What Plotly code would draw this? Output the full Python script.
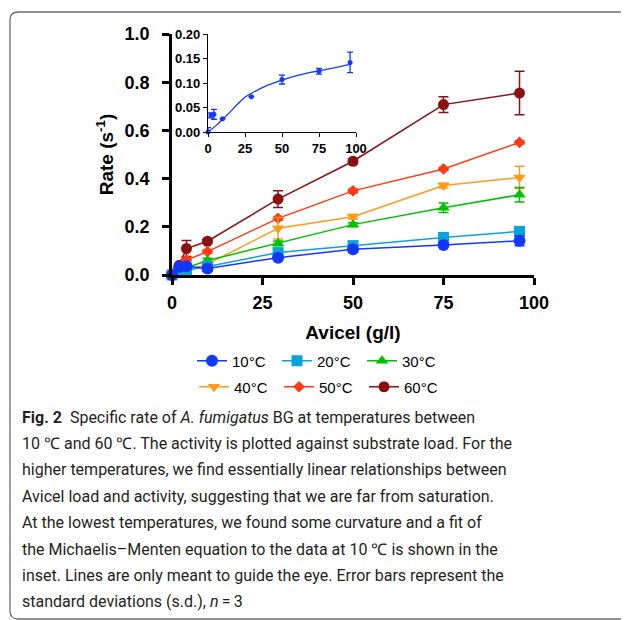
import plotly.graph_objects as go

# ---------------- data ----------------
avicel = [0, 2, 4, 9.8, 29.3, 50, 75, 96]
temps = ["10°C", "20°C", "30°C", "40°C", "50°C", "60°C"]

rate_10 = [0.000, 0.034, 0.036, 0.027, 0.072, 0.107, 0.124, 0.142]
err_10 = [0.009, 0.005, 0.010, None, None, 0.009, 0.006, 0.021]
rate_20 = [0.000, 0.015, 0.020, 0.035, 0.093, 0.122, 0.156, 0.181]
err_20 = [None, None, None, None, 0.005, 0.005, 0.005, 0.005]
rate_30 = [0.000, 0.015, 0.030, 0.060, 0.131, 0.209, 0.279, 0.333]
err_30 = [None, None, None, 0.010, 0.010, 0.008, 0.020, 0.030]
rate_40 = [0.000, 0.010, 0.020, 0.045, 0.194, 0.242, 0.371, 0.405]
err_40 = [0.028, None, 0.020, None, 0.045, 0.010, 0.010, 0.046]
rate_50 = [0.000, 0.030, 0.062, 0.097, 0.235, 0.349, 0.440, 0.550]
err_50 = [None, None, 0.012, 0.008, 0.008, 0.008, 0.006, 0.006]
rate_60 = [0.000, 0.040, 0.110, 0.140, 0.315, 0.472, 0.707, 0.755]
err_60 = [None, None, 0.033, 0.008, 0.035, 0.010, 0.033, 0.090]

# Michaelis-Menten fit curve at 10 °C
fit_x = [0, 5, 10, 15, 20, 25, 30, 40, 50, 60, 70, 80, 90, 96]
fit_y = [0, 0.012, 0.026, 0.041, 0.057, 0.071, 0.080, 0.095, 0.106, 0.115,
         0.122, 0.128, 0.134, 0.138]

main_yticks = [0.0, 0.2, 0.4, 0.6, 0.8, 1.0]
main_xticks = [0, 25, 50, 75, 100]
inset_yticks = [0.00, 0.05, 0.10, 0.15, 0.20]
inset_xticks = [0, 25, 50, 75, 100]

caption_lines = [
    "<b>Fig. 2</b>  Specific rate of <i>A. fumigatus</i> BG at temperatures between",
    "10 \u2103 and 60 \u2103. The activity is plotted against substrate load. For the",
    "higher temperatures, we find essentially linear relationships between",
    "Avicel load and activity, suggesting that we are far from saturation.",
    "At the lowest temperatures, we found some curvature and a fit of",
    "the Michaelis\u2013Menten equation to the data at 10 \u2103 is shown in the",
    "inset. Lines are only meant to guide the eye. Error bars represent the",
    "standard deviations (s.d.), <i>n</i>\u2009=\u20093",
]

# ---------------- layout geometry ----------------
OFF = 8                      # page body margin
W, H = 629 - OFF, 620 - OFF
# plot area in window pixels
WL, WR, WT, WB = 172, 534, 34, 275
L, R, T, B = WL - OFF, WR - OFF, WT - OFF, WB - OFF


def px_x(px):
    """window pixel x -> paper fraction"""
    return (px - OFF - L) / (R - L)


def px_y(py):
    """window pixel y -> paper fraction"""
    return (B - (py - OFF)) / (B - T)


series = [
    (temps[0], rate_10, err_10, "#1238ff", "circle", 12, "legend"),
    (temps[1], rate_20, err_20, "#0aa3d6", "square", 11, "legend"),
    (temps[2], rate_30, err_30, "#00c000", "triangle-up", 11, "legend"),
    (temps[3], rate_40, err_40, "#ff9a1a", "triangle-down", 11, "legend2"),
    (temps[4], rate_50, err_50, "#ff3a14", "diamond", 9, "legend2"),
    (temps[5], rate_60, err_60, "#8b1010", "circle", 11, "legend2"),
]

fig = go.Figure()

for rank, (name, ys, es, col, sym, sz, leg) in reversed(list(enumerate(series))):
    fig.add_trace(go.Scatter(
        x=avicel, y=ys, name=name, mode="lines+markers",
        line=dict(color=col, width=1.5),
        marker=dict(color=col, symbol=sym, size=sz),
        error_y=dict(type="data", array=es, color=col, thickness=1.5, width=5,
                     visible=True),
        cliponaxis=False, legend=leg, legendrank=rank + 1,
    ))

# inset
fig.add_trace(go.Scatter(
    x=fit_x, y=fit_y, mode="lines", line=dict(color="#1238ff", width=1.3, shape="spline"),
    xaxis="x2", yaxis="y2", showlegend=False, hoverinfo="skip",
))
fig.add_trace(go.Scatter(
    x=avicel, y=rate_10, mode="markers",
    marker=dict(color="#1238ff", symbol="circle", size=5),
    error_y=dict(type="data", array=err_10, color="#1238ff", thickness=1.3, width=3),
    xaxis="x2", yaxis="y2", showlegend=False, cliponaxis=False,
))

bold = dict(family="Liberation Sans, Arial, sans-serif", size=18, color="black")
small = dict(family="Liberation Sans, Arial, sans-serif", size=13, color="black")
legfont = dict(family="Liberation Sans, Arial, sans-serif", size=15, color="black")

fig.update_layout(
    width=W, height=H,
    margin=dict(l=L, r=W - R, t=T, b=H - B),
    paper_bgcolor="white", plot_bgcolor="white",
    showlegend=True,
    xaxis=dict(
        range=[0, 100], tickvals=main_xticks, ticktext=[f"<b>{v}</b>" for v in main_xticks],
        showgrid=False, zeroline=False, showline=True, linecolor="black", linewidth=2.5,
        ticks="outside", ticklen=7, tickwidth=2.5, tickcolor="black",
        tickfont=bold, ticklabelstandoff=3,
        title=dict(text="<b>Avicel (g/l)</b>", font=dict(family="Liberation Sans, Arial", size=19,
                                                          color="black"), standoff=14),
    ),
    yaxis=dict(
        range=[0, 1.0], tickvals=main_yticks, ticktext=[f"<b>{v:.1f}</b>" for v in main_yticks],
        showgrid=False, zeroline=False, showline=True, linecolor="black", linewidth=2.5,
        ticks="outside", ticklen=7, tickwidth=2.5, tickcolor="black",
        tickfont=bold, ticklabelstandoff=9,
        title=dict(text="<b>Rate (s<sup>-1</sup>)</b>", font=dict(family="Liberation Sans, Arial",
                                                                  size=19, color="black"), standoff=6),
    ),
    xaxis2=dict(
        domain=[px_x(208), px_x(356)], anchor="y2",
        range=[0, 100], tickvals=inset_xticks, ticktext=[f"<b>{v}</b>" for v in inset_xticks],
        showgrid=False, zeroline=False, showline=True, linecolor="black", linewidth=1.3,
        ticks="outside", ticklen=4, tickwidth=1.3, tickcolor="black",
        tickfont=small,
    ),
    yaxis2=dict(
        domain=[px_y(132), px_y(34)], anchor="x2",
        range=[0, 0.2], tickvals=inset_yticks, ticktext=[f"<b>{v:.2f}</b>" for v in inset_yticks],
        showgrid=False, zeroline=False, showline=True, linecolor="black", linewidth=1.3,
        ticks="outside", ticklen=4, tickwidth=1.3, tickcolor="black",
        tickfont=small,
    ),
    legend=dict(
        orientation="h", x=px_x(192), xanchor="left", y=px_y(361), yanchor="middle",
        entrywidth=40, entrywidthmode="pixels", traceorder="normal",
        font=legfont, bgcolor="rgba(0,0,0,0)", itemwidth=30,
    ),
    legend2=dict(
        orientation="h", x=px_x(194), xanchor="left", y=px_y(387), yanchor="middle",
        entrywidth=40, entrywidthmode="pixels", traceorder="normal",
        font=legfont, bgcolor="rgba(0,0,0,0)", itemwidth=30,
    ),
)

# caption
for i, line in enumerate(caption_lines):
    fig.add_annotation(
        xref="paper", yref="paper", x=px_x(20), y=px_y(417 + 26.4 * i),
        xanchor="left", yanchor="middle", showarrow=False, align="left",
        text=line,
        font=dict(family="Roboto, sans-serif", size=16, color="#231f20"),
    )

# rounded border box (window pixels)
x0, x1, y0, y1, r = 10, 627, 12, 619, 8
path = (
    f"M {px_x(x0)},{px_y(y1 - r)} L {px_x(x0)},{px_y(y0 + r)} "
    f"Q {px_x(x0)},{px_y(y0)} {px_x(x0 + r)},{px_y(y0)} "
    f"L {px_x(x1 - r)},{px_y(y0)} Q {px_x(x1)},{px_y(y0)} {px_x(x1)},{px_y(y0 + r)} "
    f"L {px_x(x1)},{px_y(y1 - r)} Q {px_x(x1)},{px_y(y1)} {px_x(x1 - r)},{px_y(y1)} "
    f"L {px_x(x0 + r)},{px_y(y1)} Q {px_x(x0)},{px_y(y1)} {px_x(x0)},{px_y(y1 - r)} Z"
)
fig.add_shape(type="path", path=path, xref="paper", yref="paper",
              line=dict(color="#6d6d6d", width=1.3), layer="below")

fig.write_html("out.html")
